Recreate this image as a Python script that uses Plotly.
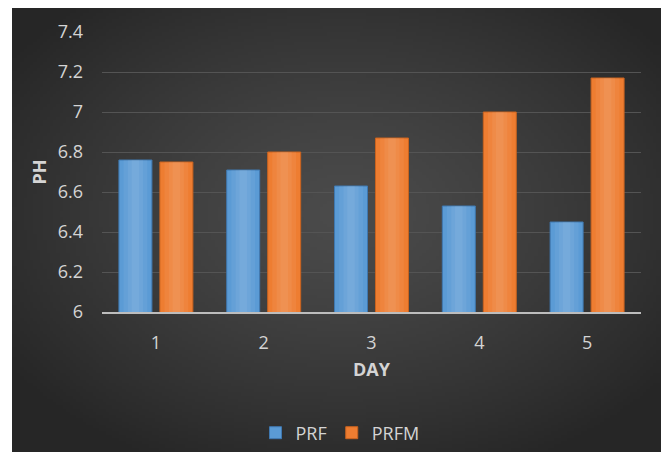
import base64, struct, zlib
import numpy as np
import plotly.graph_objects as go

days = ["1", "2", "3", "4", "5"]
prf = [6.76, 6.71, 6.63, 6.53, 6.45]
prfm = [6.75, 6.80, 6.87, 7.00, 7.17]
y_ticks = [6, 6.2, 6.4, 6.6, 6.8, 7, 7.2, 7.4]
y_tick_text = ["6", "6.2", "6.4", "6.6", "6.8", "7", "7.2", "7.4"]


def gradient_png(w=200, h=140):
    yy, xx = np.mgrid[0:h, 0:w]
    cx, cy = w * 0.5, h * 0.45
    d = np.sqrt(((xx - cx) / (w * 0.62)) ** 2 + ((yy - cy) / (h * 0.62)) ** 2)
    d = np.clip(d, 0, 1)
    v = (0x4b - (0x4b - 0x26) * d ** 1.3).astype(np.uint8)
    raw = b"".join(b"\x00" + bytes(np.repeat(row, 3)) for row in v)

    def chunk(t, data):
        c = struct.pack(">I", len(data)) + t + data
        return c + struct.pack(">I", zlib.crc32(t + data) & 0xFFFFFFFF)

    png = b"\x89PNG\r\n\x1a\n"
    png += chunk(b"IHDR", struct.pack(">IIBBBBB", w, h, 8, 2, 0, 0, 0))
    png += chunk(b"IDAT", zlib.compress(raw, 9))
    png += chunk(b"IEND", b"")
    return "data:image/png;base64," + base64.b64encode(png).decode()


W, H = 661, 452
L, R, T, B = 102, 20, 32, 140
pw, ph = W - L - R, H - T - B

font = "Open Sans"
tick_color = "#d4d4d4"
fs = 18

BAR_W = 0.306
series = [
    ("PRF", prf, "#5b9bd5", "#3f78b0", -0.343),
    ("PRFM", prfm, "#ee7d31", "#c9631f", 0.037),
]

fig = go.Figure()
for name, vals, col, edge, off in series:
    fig.add_trace(go.Bar(name=name, x=days, y=vals, width=BAR_W, offset=off,
                         marker=dict(color=col, line=dict(color=edge, width=1))))
for name, vals, col, edge, off in series:
    center = off + BAR_W / 2
    for hw in (0.22, 0.14, 0.07):
        fig.add_trace(go.Bar(x=days, y=vals, width=hw, offset=center - hw / 2,
                             marker=dict(color="rgba(255,255,255,0.06)", line=dict(width=0)),
                             showlegend=False, hoverinfo="skip"))

fig.update_layout(
    width=W, height=H,
    margin=dict(l=L, r=R, t=T, b=B, autoexpand=False),
    paper_bgcolor="#282828",
    plot_bgcolor="rgba(0,0,0,0)",
    barmode="overlay",
    font=dict(family=font, color=tick_color, size=fs),
    images=[dict(
        source=gradient_png(),
        xref="paper", yref="paper",
        x=(12 - L) / pw, y=(T + ph - 8) / ph,
        sizex=(W + 10 - 12) / pw, sizey=(H + 10 - 8) / ph,
        xanchor="left", yanchor="top",
        sizing="stretch", layer="below",
    )],
    shapes=[
        dict(type="rect", xref="paper", yref="paper", layer="above",
             x0=-L / pw, x1=(12 - L) / pw, y0=-B / ph - 0.1, y1=(T + ph) / ph + 0.1,
             fillcolor="white", line=dict(width=0)),
        dict(type="rect", xref="paper", yref="paper", layer="above",
             x0=-L / pw, x1=(W - L) / pw + 0.1, y0=(T + ph - 8) / ph, y1=(T + ph) / ph + 0.1,
             fillcolor="white", line=dict(width=0)),
    ],
    xaxis=dict(
        showline=True, linecolor="#bdbdbd", linewidth=2,
        showgrid=False, ticks="", ticklabelstandoff=13,
        tickfont=dict(size=fs, color=tick_color),
        title=dict(text="<b>DAY</b>", font=dict(size=fs, color=tick_color), standoff=11),
    ),
    yaxis=dict(
        range=[6, 7.4], tickvals=y_ticks, ticktext=y_tick_text,
        showgrid=True, gridcolor="#545454", gridwidth=1,
        zeroline=False, showline=False, ticks="", ticklabelstandoff=18,
        tickfont=dict(size=fs, color=tick_color),
        title=dict(text="<b>PH</b>", font=dict(size=fs, color=tick_color), standoff=6),
    ),
    legend=dict(
        orientation="h", xanchor="center", yanchor="middle",
        x=(340 - L) / pw, y=(T + ph - 433) / ph,
        font=dict(size=fs, color=tick_color),
        itemwidth=30,
        bgcolor="rgba(0,0,0,0)",
    ),
)

fig.write_html("out.html",
               post_script="document.body.style.background='#282828';"
                           "document.documentElement.style.background='#282828';")
